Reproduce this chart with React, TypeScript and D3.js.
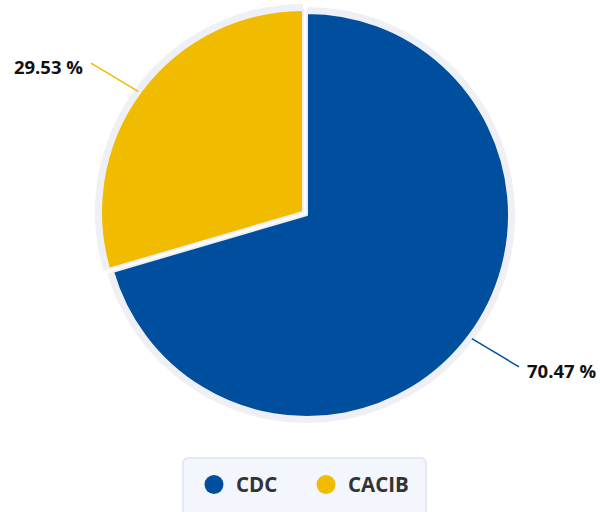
import React from "react";
import * as d3 from "d3";

const categories = ["CDC", "CACIB"];
const values = [70.47, 29.53];
const colors = ["#004f9f", "#f1bb00"];
const slicedFlags = [false, true];

const W = 600;
const H = 512;
const cx = 307;
const cy = 215;
const R = 202;
const ringR = 208;
const sliceOffset = 5;
const ringColor = "#eef0f6";
const font = "'Open Sans', 'Noto Sans', sans-serif";
const connectorAngle = (31 * Math.PI) / 180;
const connectorLen = 55;

export default function App() {
  const pie = d3.pie<number>().sort(null).value((d) => d)(values);
  const arc = d3.arc<d3.PieArcDatum<number>>().innerRadius(0).outerRadius(R);
  const ringArc = d3.arc<d3.PieArcDatum<number>>().innerRadius(0).outerRadius(ringR);

  const slices = pie.map((p, i) => {
    const mid = (p.startAngle + p.endAngle) / 2;
    const dx = Math.sin(mid);
    const dy = -Math.cos(mid);
    const off = slicedFlags[i] ? sliceOffset : 0;
    const ox = cx + dx * off;
    const oy = cy + dy * off;
    const r0x = ox + dx * (ringR - 2);
    const r0y = cy + dy * (ringR - 2);
    const r1x = r0x + Math.sign(dx) * Math.cos(connectorAngle) * connectorLen;
    const r1y = r0y + Math.sign(dy) * Math.sin(connectorAngle) * connectorLen;
    return { p, i, dx, dy, ox, oy, r0x, r0y, r1x, r1y };
  });

  const legendX = 183;
  const legendY = 458;
  const legendW = 243;

  return (
    <svg width={W} height={H} style={{ position: "absolute", left: 0, top: 0 }}>
      <rect x={0} y={0} width={W} height={H} fill="#ffffff" />
      {slices.map((s) => (
        <path
          key={"ring" + s.i}
          d={ringArc(s.p) || ""}
          transform={`translate(${s.ox},${s.oy})`}
          fill={ringColor}
        />
      ))}
      {slices.map((s) => (
        <path
          key={"slice" + s.i}
          d={arc(s.p) || ""}
          transform={`translate(${s.ox},${s.oy})`}
          fill={colors[s.i]}
          stroke={ringColor}
          strokeWidth={2}
          strokeLinejoin="round"
        />
      ))}
      {slices.map((s) => (
        <g key={"lab" + s.i}>
          <line
            x1={s.r0x}
            y1={s.r0y}
            x2={s.r1x}
            y2={s.r1y}
            stroke={colors[s.i]}
            strokeWidth={1.5}
          />
          <text
            x={s.dx > 0 ? s.r1x + 8 : s.r1x - 8}
            y={s.r1y + 11}
            textAnchor={s.dx > 0 ? "start" : "end"}
            fontFamily={font}
            fontWeight={700}
            fontSize={18.5}
            fill="#111111"
          >
            {values[s.i].toFixed(2) + " %"}
          </text>
        </g>
      ))}
      <rect
        x={legendX}
        y={legendY}
        width={legendW}
        height={70}
        rx={5}
        fill="#f4f6fd"
        stroke="#dde3f3"
        strokeWidth={1.5}
      />
      {categories.map((c, i) => {
        const x0 = i === 0 ? 214 : 326;
        return (
          <g key={c}>
            <circle cx={x0} cy={484.5} r={9.5} fill={colors[i]} />
            <text
              x={x0 + 22}
              y={492}
              fontFamily={font}
              fontWeight={700}
              fontSize={20.5}
              fill="#333333"
            >
              {c}
            </text>
          </g>
        );
      })}
    </svg>
  );
}
